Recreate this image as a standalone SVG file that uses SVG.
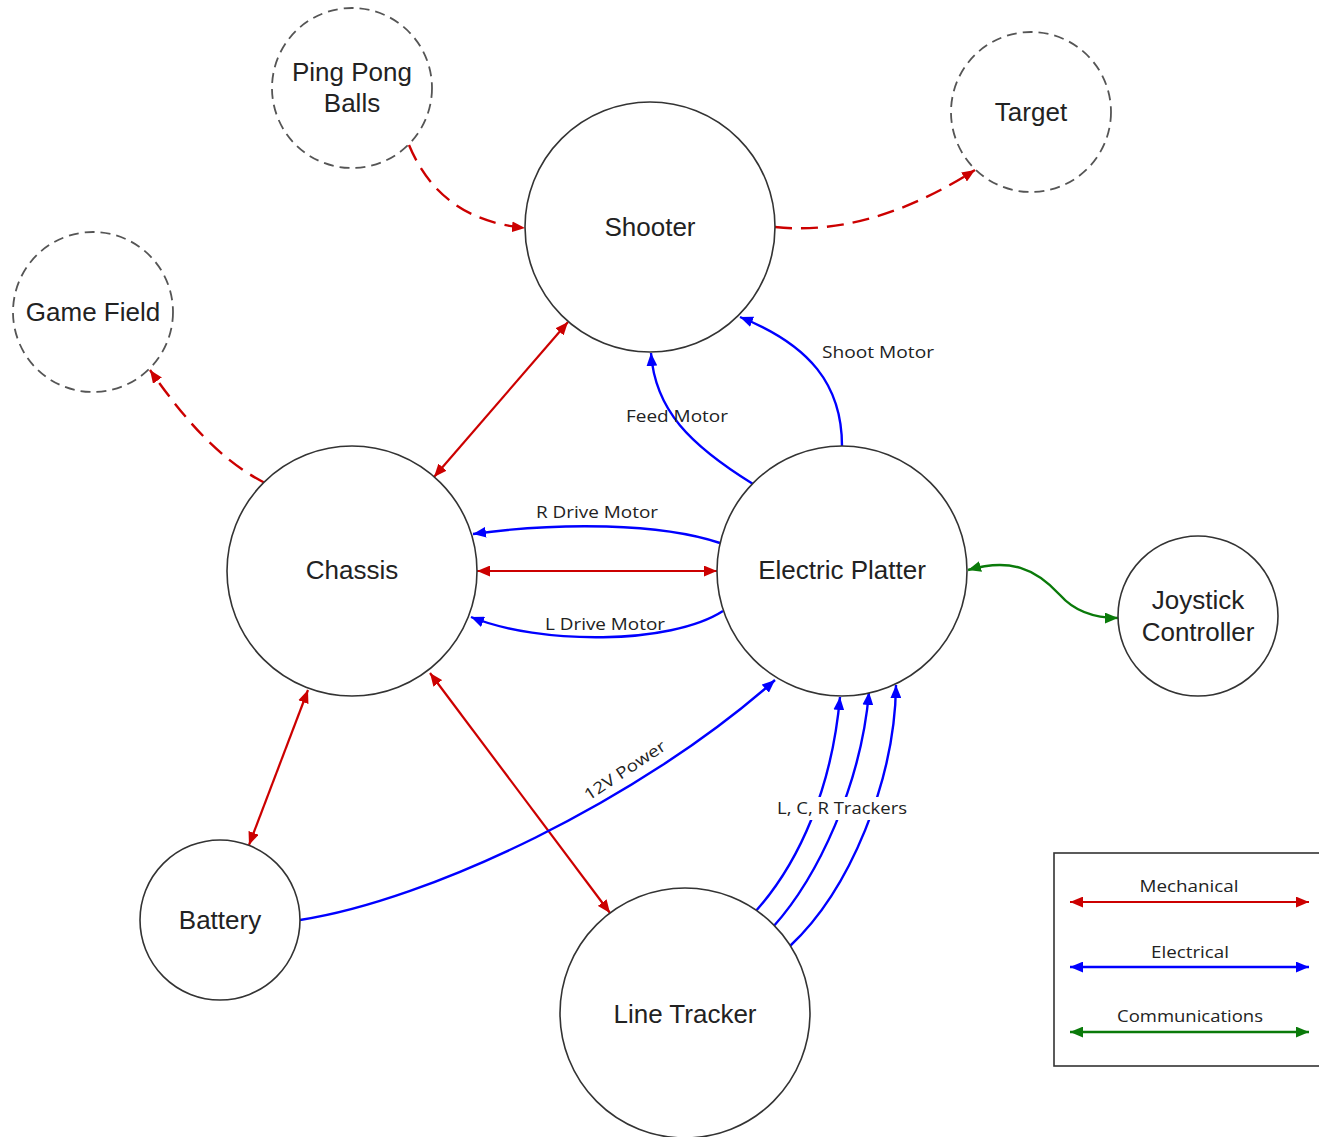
<svg xmlns="http://www.w3.org/2000/svg" width="1319" height="1137" viewBox="0 0 1319 1137">
<style>
.node{fill:#fff;stroke:#333;stroke-width:1.6}
.ext{fill:#fff;stroke:#555;stroke-width:1.8;stroke-dasharray:10 6}
.nl{font-family:"Liberation Sans",Arial,sans-serif;font-size:26px;fill:#222;text-anchor:middle}
.el{font-family:"Open Sans","DejaVu Sans",sans-serif;font-size:16px;fill:#222;text-anchor:middle}
.mech{fill:none;stroke:#cc0000;stroke-width:2.2}
.mechd{fill:none;stroke:#cc0000;stroke-width:2.4;stroke-dasharray:17 9}
.elec{fill:none;stroke:#0000ff;stroke-width:2.4}
.comm{fill:none;stroke:#0a7a0a;stroke-width:2.4}
</style>
<defs>
<marker id="ar" viewBox="0 0 12 10" refX="12" refY="5" markerWidth="13" markerHeight="11" markerUnits="userSpaceOnUse" orient="auto-start-reverse"><path d="M0,0 L12,5 L0,10 z" fill="#cc0000"/></marker>
<marker id="ab" viewBox="0 0 12 10" refX="12" refY="5" markerWidth="13" markerHeight="11" markerUnits="userSpaceOnUse" orient="auto-start-reverse"><path d="M0,0 L12,5 L0,10 z" fill="#0000ff"/></marker>
<marker id="ag" viewBox="0 0 12 10" refX="12" refY="5" markerWidth="13" markerHeight="11" markerUnits="userSpaceOnUse" orient="auto-start-reverse"><path d="M0,0 L12,5 L0,10 z" fill="#0a7a0a"/></marker>
</defs>
<rect width="1319" height="1137" fill="#fff"/>

<g id="connectors">
<path class="mechd" d="M409,145 Q440,220 525,228" marker-end="url(#ar)"/>
<path class="mechd" d="M775,227 C850,235 920,205 975,170" marker-end="url(#ar)"/>
<path class="mechd" d="M265,483 C220,460 185,420 150,370" marker-end="url(#ar)"/>
<path class="mech" d="M568,322 L434,477" marker-start="url(#ar)" marker-end="url(#ar)"/>
<path class="mech" d="M477,571 L717,571" marker-start="url(#ar)" marker-end="url(#ar)"/>
<path class="mech" d="M308,690 L249,845" marker-start="url(#ar)" marker-end="url(#ar)"/>
<path class="mech" d="M430,673 L610,913" marker-start="url(#ar)" marker-end="url(#ar)"/>
<path class="elec" d="M753,484 C690,445 655,410 651,353" marker-end="url(#ab)"/>
<path class="elec" d="M842,446 C842,385 810,345 740,317" marker-end="url(#ab)"/>
<path class="elec" d="M720,543 C660,523 560,522 473,534" marker-end="url(#ab)"/>
<path class="elec" d="M723,611 C670,645 540,645 471,617" marker-end="url(#ab)"/>
<path class="elec" d="M300,920 C430,900 640,800 775,680" marker-end="url(#ab)"/>
<path class="elec" d="M755,912 C800,862 832,787 840,697" marker-end="url(#ab)"/>
<path class="elec" d="M773,927 C818,877 861,785 869,692" marker-end="url(#ab)"/>
<path class="elec" d="M790,946 C850,890 895,780 896,685" marker-end="url(#ab)"/>
<path class="comm" d="M968,570 C1010,558 1035,568 1060,595 C1075,612 1095,618 1118,618" marker-start="url(#ag)" marker-end="url(#ag)"/>
<text class="el" x="878" y="358" textLength="112" lengthAdjust="spacingAndGlyphs">Shoot Motor</text>
<text class="el" x="677" y="422" textLength="102" lengthAdjust="spacingAndGlyphs">Feed Motor</text>
<text class="el" x="597" y="518" textLength="122" lengthAdjust="spacingAndGlyphs">R Drive Motor</text>
<text class="el" x="605" y="630" textLength="120" lengthAdjust="spacingAndGlyphs">L Drive Motor</text>
<text class="el" x="0" y="0" textLength="94" lengthAdjust="spacingAndGlyphs" transform="translate(628,775) rotate(-33.5)">12V Power</text>
<rect x="775" y="797" width="135" height="23" fill="#fff"/>
<text class="el" x="842" y="814" textLength="130" lengthAdjust="spacingAndGlyphs">L, C, R Trackers</text>
</g>

<g id="ping-pong-balls"><circle class="ext" cx="352" cy="88" r="80"/><text class="nl" x="352" y="81">Ping Pong</text><text class="nl" x="352" y="112">Balls</text></g>
<g id="target"><circle class="ext" cx="1031" cy="112" r="80"/><text class="nl" x="1031" y="121">Target</text></g>
<g id="game-field"><circle class="ext" cx="93" cy="312" r="80"/><text class="nl" x="93" y="321">Game Field</text></g>
<g id="shooter"><circle class="node" cx="650" cy="227" r="125"/><text class="nl" x="650" y="236">Shooter</text></g>
<g id="chassis"><circle class="node" cx="352" cy="571" r="125"/><text class="nl" x="352" y="579">Chassis</text></g>
<g id="electric-platter"><circle class="node" cx="842" cy="571" r="125"/><text class="nl" x="842" y="579">Electric Platter</text></g>
<g id="joystick-controller"><circle class="node" cx="1198" cy="616" r="80"/><text class="nl" x="1198" y="609">Joystick</text><text class="nl" x="1198" y="641">Controller</text></g>
<g id="battery"><circle class="node" cx="220" cy="920" r="80"/><text class="nl" x="220" y="929">Battery</text></g>
<g id="line-tracker"><circle class="node" cx="685" cy="1013" r="125"/><text class="nl" x="685" y="1023">Line Tracker</text></g>

<g id="legend">
<rect x="1054" y="853" width="270" height="213" fill="#fff" stroke="#333" stroke-width="1.6"/>
<text class="el" x="1189" y="892" textLength="99" lengthAdjust="spacingAndGlyphs">Mechanical</text>
<path class="mech" d="M1070,902 L1309,902" marker-start="url(#ar)" marker-end="url(#ar)"/>
<text class="el" x="1190" y="958" textLength="78" lengthAdjust="spacingAndGlyphs">Electrical</text>
<path class="elec" d="M1070,967 L1309,967" marker-start="url(#ab)" marker-end="url(#ab)"/>
<text class="el" x="1190" y="1022" textLength="146" lengthAdjust="spacingAndGlyphs">Communications</text>
<path class="comm" d="M1070,1032 L1309,1032" marker-start="url(#ag)" marker-end="url(#ag)"/>
</g>
</svg>
